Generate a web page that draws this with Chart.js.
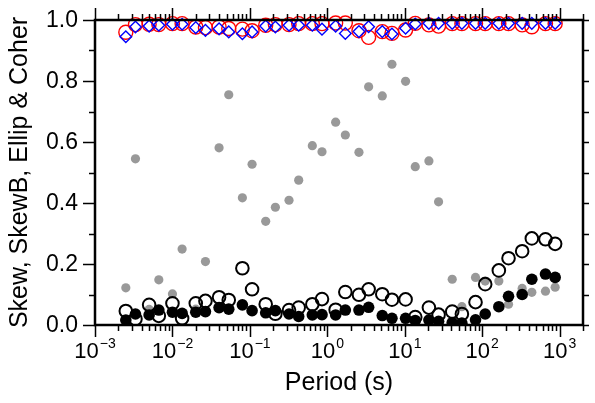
<!DOCTYPE html>
<html>
<head>
<meta charset="utf-8">
<title>Skew, SkewB, Ellip & Coher</title>
<script src="https://cdn.jsdelivr.net/npm/chart.js@4.4.1/dist/chart.umd.min.js"></script>
<style>
  html, body { margin: 0; padding: 0; background: #fff; }
  #chart { display: block; }
</style>
</head>
<body>
<canvas id="chart" width="595" height="403"></canvas>
<script>
// periods (s), two interleaved bands
const periods = [0.0025, 0.00333, 0.005, 0.00667, 0.01, 0.01333, 0.02, 0.02667, 0.04, 0.05333,
  0.08, 0.1067, 0.16, 0.2133, 0.32, 0.4267, 0.64, 0.8533, 1.28, 1.707,
  2.56, 3.413, 5.12, 6.827, 10.24, 13.65, 20.48, 27.31, 40.96, 54.61,
  81.92, 109.2, 163.8, 218.5, 327.7, 436.9, 655.4, 873.8];

// black filled circles
const skew = [0.016, 0.036, 0.033, 0.049, 0.042, 0.038, 0.042, 0.044, 0.057, 0.052,
  0.066, 0.047, 0.040, 0.047, 0.036, 0.028, 0.033, 0.034, 0.033, 0.049,
  0.049, 0.058, 0.031, 0.022, 0.022, 0.015, 0.016, 0.012, 0.008, 0.006,
  0.017, 0.036, 0.060, 0.094, 0.100, 0.150, 0.167, 0.156];

// black open circles
const skewB = [0.046, 0.020, 0.066, 0.030, 0.071, 0.022, 0.071, 0.079, 0.091, 0.082,
  0.186, 0.117, 0.068, 0.037, 0.049, 0.057, 0.068, 0.085, 0.050, 0.108,
  0.099, 0.117, 0.101, 0.083, 0.084, 0.026, 0.057, 0.034, 0.044, 0.036,
  0.075, 0.134, 0.179, 0.219, 0.242, 0.284, 0.281, 0.266];

// grey dots
const ellip = [0.122, 0.545, 0.051, 0.148, 0.102, 0.249, 0.052, 0.208, 0.581, 0.755,
  0.417, 0.527, 0.340, 0.386, 0.409, 0.475, 0.588, 0.568, 0.665, 0.623,
  0.566, 0.781, 0.751, 0.855, 0.799, 0.519, 0.538, 0.404, 0.150, 0.060,
  0.156, 0.144, 0.144, 0.068, 0.120, 0.107, 0.111, 0.124];

// red circles / blue diamonds
const coherXY = [0.960, 0.985, 0.986, 0.985, 0.988, 0.988, 0.977, 0.975, 0.977, 0.972,
  0.970, 0.965, 0.983, 0.985, 0.985, 0.988, 0.988, 0.988, 0.990, 0.990,
  0.965, 0.943, 0.962, 0.956, 0.967, 0.989, 0.984, 0.980, 0.988, 0.988,
  0.988, 0.988, 0.988, 0.988, 0.984, 0.978, 0.988, 0.988];
const coherYX = [0.945, 0.977, 0.980, 0.983, 0.986, 0.986, 0.975, 0.966, 0.971, 0.961,
  0.955, 0.961, 0.980, 0.977, 0.983, 0.983, 0.983, 0.970, 0.980, 0.956,
  0.962, 0.978, 0.962, 0.954, 0.973, 0.987, 0.989, 0.989, 0.989, 0.989,
  0.989, 0.989, 0.989, 0.989, 0.989, 0.989, 0.989, 0.989];

// axis labels
const xTickExp = [-3, -2, -1, 0, 1, 2, 3];
const yTickLabels = ['0.0', '0.2', '0.4', '0.6', '0.8', '1.0'];
const xTitle = 'Period (s)';
const yTitle = 'Skew, SkewB, Ellip & Coher';

const FONT = '"Liberation Sans", Arial, Helvetica, sans-serif';

function pts(vals) {
  return vals.map((v, i) => ({ x: periods[i], y: v }));
}

// frame, ticks and labels in GMT style
const gmtFrame = {
  id: 'gmtFrame',
  afterDatasetsDraw(chart) {
    const { ctx, chartArea: a, scales: { x, y } } = chart;
    ctx.save();
    ctx.strokeStyle = '#000';
    ctx.fillStyle = '#000';

    // y ticks, every 0.1
    ctx.lineWidth = 1.5;
    ctx.beginPath();
    for (let i = 0; i <= 10; i++) {
      const py = Math.round(y.getPixelForValue(i / 10)) + 0.5;
      const len = i % 2 === 0 ? 12 : 6;
      ctx.moveTo(a.left, py); ctx.lineTo(a.left - len, py);
      ctx.moveTo(a.right, py); ctx.lineTo(a.right + 6, py);
    }
    // x ticks, 1..9 per decade
    xTickExp.forEach(e => {
      for (let m = 1; m <= 9; m++) {
        const v = m * Math.pow(10, e);
        if (v > x.max * 1.0001) break;
        const px = Math.round(x.getPixelForValue(v)) + 0.5;
        const len = m === 1 ? 12 : 6;
        ctx.moveTo(px, a.bottom); ctx.lineTo(px, a.bottom + len);
        ctx.moveTo(px, a.top); ctx.lineTo(px, a.top - len);
      }
    });
    ctx.stroke();

    // frame
    ctx.lineWidth = 2.5;
    ctx.strokeRect(a.left, a.top, a.right - a.left, a.bottom - a.top);

    // y tick labels
    ctx.font = '23px ' + FONT;
    ctx.textAlign = 'right';
    ctx.textBaseline = 'middle';
    yTickLabels.forEach(t => {
      ctx.fillText(t, a.left - 17, y.getPixelForValue(parseFloat(t)) + 1);
    });

    // x tick labels: 10 with superscript exponent
    ctx.textAlign = 'left';
    ctx.textBaseline = 'alphabetic';
    xTickExp.forEach(e => {
      const px = x.getPixelForValue(Math.pow(10, e));
      const base = '10';
      const sup = e < 0 ? '\u2212' + Math.abs(e) : String(e);
      ctx.font = '22px ' + FONT;
      const wb = ctx.measureText(base).width;
      ctx.font = '14px ' + FONT;
      const ws = ctx.measureText(sup).width;
      const x0 = px - (wb + ws + 1) / 2;
      ctx.font = '22px ' + FONT;
      ctx.fillText(base, x0, a.bottom + 33);
      ctx.font = '14px ' + FONT;
      ctx.fillText(sup, x0 + wb + 1, a.bottom + 23);
    });

    // titles
    ctx.font = '25px ' + FONT;
    ctx.textAlign = 'center';
    ctx.textBaseline = 'middle';
    ctx.fillText(xTitle, (a.left + a.right) / 2, a.bottom + 58);
    ctx.translate(20, (a.top + a.bottom) / 2);
    ctx.rotate(-Math.PI / 2);
    ctx.fillText(yTitle, 0, 0);
    ctx.restore();
  }
};

new Chart(document.getElementById('chart'), {
  type: 'scatter',
  data: {
    datasets: [
      { label: 'Coher YX', data: pts(coherYX), pointStyle: 'rectRot', pointRadius: 5.8,
        borderColor: '#0000ff', backgroundColor: 'rgba(0,0,0,0)', borderWidth: 1.4, clip: false },
      { label: 'Coher XY', data: pts(coherXY), pointStyle: 'circle', pointRadius: 7,
        borderColor: '#ff0000', backgroundColor: 'rgba(0,0,0,0)', borderWidth: 1.4, clip: false },
      { label: 'Skew', data: pts(skew), pointStyle: 'circle', pointRadius: 5.8,
        borderColor: '#000', backgroundColor: '#000', borderWidth: 0 },
      { label: 'SkewB', data: pts(skewB), pointStyle: 'circle', pointRadius: 6.3,
        borderColor: '#000', backgroundColor: 'rgba(0,0,0,0)', borderWidth: 2 },
      { label: 'Ellip', data: pts(ellip), pointStyle: 'circle', pointRadius: 4.6,
        borderColor: '#999', backgroundColor: '#999', borderWidth: 0 }
    ]
  },
  options: {
    responsive: false,
    animation: false,
    devicePixelRatio: 1,
    layout: { padding: { left: 95, right: 12, top: 20, bottom: 78 } },
    plugins: { legend: { display: false }, tooltip: { enabled: false } },
    elements: { point: { hoverRadius: 6 } },
    scales: {
      x: { type: 'logarithmic', min: 0.001, max: 2000, display: false },
      y: { type: 'linear', min: 0, max: 1, display: false }
    }
  },
  plugins: [gmtFrame]
});
</script>
</body>
</html>
